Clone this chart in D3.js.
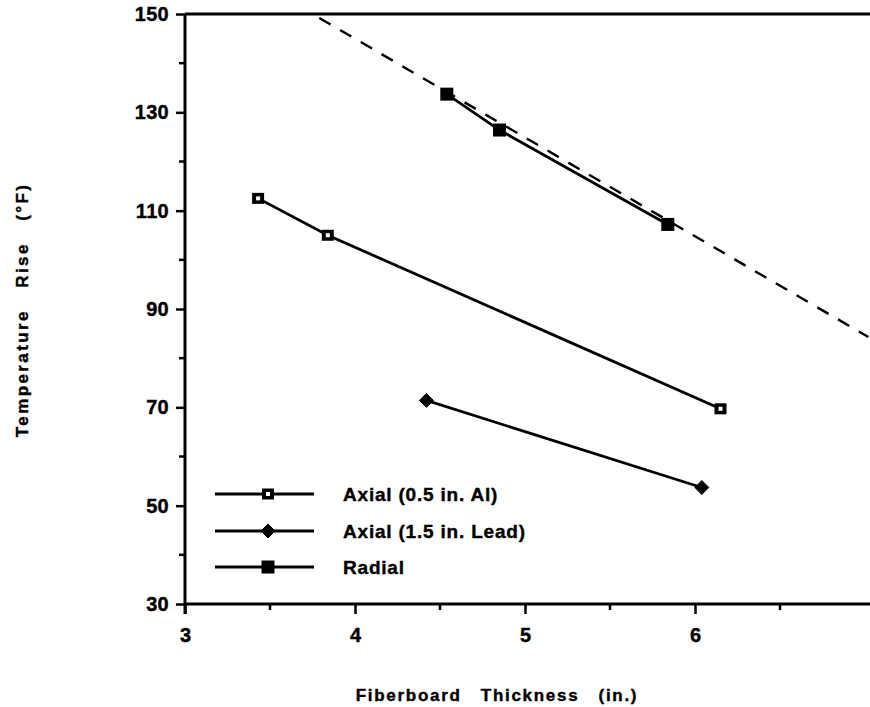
<!DOCTYPE html>
<html><head><meta charset="utf-8">
<script src="https://cdn.jsdelivr.net/npm/d3@7"></script>
<style>
body{margin:0;background:#fff;}
text{font-family:"Liberation Sans",Arial,Helvetica,sans-serif;font-weight:bold;fill:#000;stroke:#000;stroke-width:0.4px;}
</style></head>
<body><svg id="chart" width="870" height="707"></svg>
<script>
const seriesNames = ["Axial (0.5 in. Al)", "Axial (1.5 in. Lead)", "Radial"];
const axialAlX = [3.43, 3.84, 6.15];
const axialAlY = [112.5, 105.0, 69.7];
const axialLeadX = [4.42, 6.04];
const axialLeadY = [71.4, 53.7];
const radialX = [4.54, 4.85, 5.84];
const radialY = [133.7, 126.4, 107.2];
const radialTrendX = [3.79, 7.02];
const radialTrendY = [149.2, 84.3];
const xTicks = [3, 4, 5, 6];
const yTicks = [30, 50, 70, 90, 110, 130, 150];

const svg = d3.select("#chart");
const x = d3.scaleLinear().domain([3, 7]).range([185, 865]);
const y = d3.scaleLinear().domain([30, 150]).range([604, 14]);

const zip = (xs, ys) => xs.map((v, i) => [v, ys[i]]);
const line = d3.line().x(d => x(d[0])).y(d => y(d[1]));

// minor ticks
svg.append("g").selectAll("line").data(d3.range(3.5, 7, 1)).join("line")
  .attr("x1", d => x(d)).attr("x2", d => x(d)).attr("y1", y(30)).attr("y2", y(30) + 6)
  .attr("stroke", "#000").attr("stroke-width", 2.5);
svg.append("g").selectAll("line").data(d3.range(40, 150, 20)).join("line")
  .attr("x1", x(3) - 6).attr("x2", x(3)).attr("y1", d => y(d)).attr("y2", d => y(d))
  .attr("stroke", "#000").attr("stroke-width", 2.5);

// axes
const xAxis = d3.axisBottom(x).tickValues(xTicks).tickSize(10).tickPadding(14).tickFormat(d3.format("d"));
const gx = svg.append("g").attr("transform", `translate(0,${y(30)})`).call(xAxis);
gx.attr("font-size", null).attr("font-family", null);
gx.select(".domain").attr("stroke-width", 3).attr("d", `M${x(3)},0H870`);
gx.selectAll(".tick line").attr("stroke-width", 2.5);
gx.selectAll(".tick text").style("font-size", "20px");

const yAxis = d3.axisLeft(y).tickValues(yTicks).tickSize(9).tickPadding(7).tickFormat(d3.format("d"));
const gy = svg.append("g").attr("transform", `translate(${x(3)},0)`).call(yAxis);
gy.attr("font-size", null).attr("font-family", null);
gy.select(".domain").attr("stroke-width", 3).attr("d", `M0,${y(150)}V${y(30) + 10}`);
gy.selectAll(".tick line").attr("stroke-width", 2.5);
gy.selectAll(".tick text").style("font-size", "20px").attr("letter-spacing", 0.3);

// top border
svg.append("line").attr("x1", x(3)).attr("x2", 870).attr("y1", y(150)).attr("y2", y(150))
  .attr("stroke", "#000").attr("stroke-width", 3);

// dashed trend
svg.append("path").datum(zip(radialTrendX, radialTrendY)).attr("d", line)
  .attr("fill", "none").attr("stroke", "#000").attr("stroke-width", 2.4).attr("stroke-dasharray", "13,11");

// series lines
const seriesData = [zip(axialAlX, axialAlY), zip(axialLeadX, axialLeadY), zip(radialX, radialY)];
seriesData.forEach(s => {
  svg.append("path").datum(s).attr("d", line).attr("fill", "none")
    .attr("stroke", "#000").attr("stroke-width", 2.8);
});

function marker(g, type, cx, cy) {
  if (type === 0) {
    g.append("rect").attr("x", cx - 6).attr("y", cy - 5.5).attr("width", 12).attr("height", 11)
      .attr("fill", "#000");
    g.append("rect").attr("x", cx - 2).attr("y", cy - 2).attr("width", 4).attr("height", 4)
      .attr("fill", "#fff");
  } else if (type === 1) {
    g.append("path").attr("d", `M${cx},${cy - 7}L${cx + 7},${cy}L${cx},${cy + 7}L${cx - 7},${cy}Z`)
      .attr("fill", "#000").attr("stroke", "#000").attr("stroke-width", 1).attr("stroke-linejoin", "round");
  } else {
    g.append("rect").attr("x", cx - 6.5).attr("y", cy - 6.5).attr("width", 13).attr("height", 13)
      .attr("fill", "#000");
  }
}
const mg = svg.append("g");
seriesData.forEach((s, i) => s.forEach(d => marker(mg, i, x(d[0]), y(d[1]))));

// legend
const legY = [494, 531, 567];
const lg = svg.append("g");
seriesNames.forEach((name, i) => {
  lg.append("line").attr("x1", 215).attr("x2", 314).attr("y1", legY[i]).attr("y2", legY[i])
    .attr("stroke", "#000").attr("stroke-width", 2.8);
  marker(lg, i, 268, legY[i]);
  lg.append("text").attr("x", 343).attr("y", legY[i] + 7).style("font-size", "19px")
    .attr("letter-spacing", 0.8).text(name);
});

// axis titles
svg.append("text").attr("x", 497).attr("y", 701).attr("text-anchor", "middle")
  .style("font-size", "17px").attr("letter-spacing", 1.7)
  .style("white-space", "pre").text("Fiberboard   Thickness   (in.)");
svg.append("text").attr("transform", "translate(28,310) rotate(-90)").attr("text-anchor", "middle")
  .style("font-size", "17px").attr("letter-spacing", 2.4)
  .style("white-space", "pre").text("Temperature   Rise   (°F)");
</script></body></html>
